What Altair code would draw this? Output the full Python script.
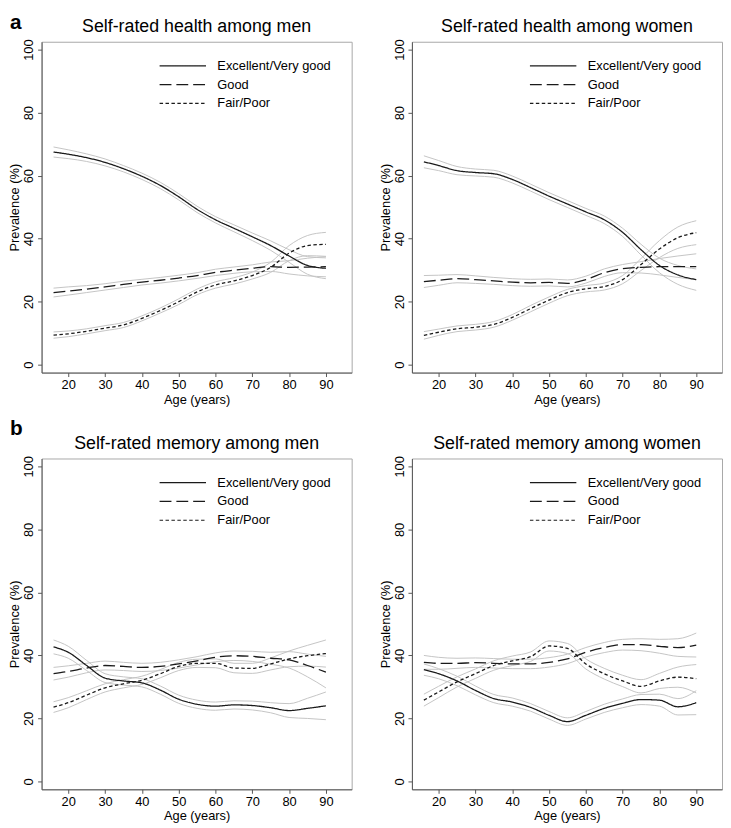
import altair as alt
import pandas as pd

FONT = "Liberation Sans"
AGES = [16, 20, 25, 30, 35, 40, 45, 50, 55, 60, 65, 70, 75, 80, 85, 90]
SERIES = ["Excellent/Very good", "Good", "Fair/Poor"]

# Self-rated health among men
hm_exc = [67.5, 66.8, 65.7, 64.2, 62.2, 59.8, 56.9, 53.3, 49.3, 46.0, 43.3, 40.6, 37.8, 34.5, 31.5, 30.6]
hm_good = [22.9, 23.4, 24.0, 24.7, 25.5, 26.2, 26.8, 27.5, 28.3, 29.3, 30.0, 30.6, 31.1, 30.9, 31.0, 31.1]
hm_fair = [9.4, 9.8, 10.6, 11.6, 12.6, 14.7, 17.2, 20.0, 23.1, 25.3, 26.6, 28.3, 30.9, 35.4, 37.8, 38.2]
hm_exc_hw = [1.6, 1.4, 1.2, 1.1, 1.0, 1.0, 1.0, 1.0, 1.0, 1.0, 1.1, 1.2, 1.5, 2.0, 2.8, 3.3]
hm_good_hw = [1.4, 1.3, 1.1, 1.0, 1.0, 0.9, 0.9, 0.9, 0.9, 1.0, 1.0, 1.1, 1.5, 2.1, 2.8, 3.2]
hm_fair_hw = [1.0, 0.9, 0.8, 0.8, 0.8, 0.8, 0.8, 0.9, 0.9, 1.0, 1.0, 1.1, 1.6, 2.4, 3.2, 3.8]

# Self-rated health among women
hw_exc = [64.4, 63.2, 61.6, 61.0, 60.6, 58.8, 56.2, 53.5, 51.0, 48.5, 46.0, 42.0, 36.5, 31.5, 28.5, 27.0]
hw_good = [26.4, 26.8, 27.3, 27.0, 26.6, 26.2, 26.0, 26.1, 25.8, 27.0, 29.2, 30.5, 30.9, 31.1, 31.1, 31.1]
hw_fair = [9.3, 10.3, 11.4, 11.9, 12.8, 15.0, 17.8, 20.5, 22.9, 24.1, 24.8, 27.0, 31.8, 36.7, 40.3, 41.9]
hw_exc_hw = [1.9, 1.6, 1.3, 1.1, 1.1, 1.1, 1.1, 1.1, 1.1, 1.1, 1.2, 1.3, 1.7, 2.3, 3.0, 3.4]
hw_good_hw = [1.9, 1.6, 1.3, 1.2, 1.1, 1.1, 1.1, 1.1, 1.1, 1.1, 1.2, 1.3, 1.8, 2.6, 3.4, 4.1]
hw_fair_hw = [1.2, 1.0, 0.9, 0.9, 0.9, 0.9, 1.0, 1.0, 1.0, 1.0, 1.1, 1.3, 1.9, 2.7, 3.4, 3.8]

# Self-rated memory among men
mm_exc = [42.7, 41.0, 36.8, 32.8, 31.9, 31.3, 29.0, 26.1, 24.5, 23.9, 24.3, 24.1, 23.4, 22.5, 23.2, 24.0]
mm_good = [34.2, 34.9, 36.0, 36.8, 36.5, 36.2, 36.5, 37.3, 38.3, 39.4, 39.9, 39.7, 39.1, 38.6, 36.8, 34.7]
mm_fair = [23.6, 25.0, 27.4, 29.7, 31.0, 32.1, 34.2, 36.5, 37.5, 37.5, 36.0, 35.9, 37.3, 38.9, 39.9, 40.6]
mm_exc_hw = [2.2, 1.9, 1.6, 1.4, 1.3, 1.3, 1.3, 1.3, 1.3, 1.3, 1.3, 1.4, 1.6, 2.2, 3.2, 4.4]
mm_good_hw = [2.0, 1.8, 1.5, 1.4, 1.3, 1.3, 1.3, 1.3, 1.3, 1.4, 1.5, 1.6, 1.9, 2.6, 3.6, 5.0]
mm_fair_hw = [1.7, 1.6, 1.4, 1.3, 1.3, 1.3, 1.3, 1.3, 1.3, 1.4, 1.5, 1.6, 1.9, 2.5, 3.3, 4.3]

# Self-rated memory among women
wm_exc = [35.5, 34.2, 31.9, 28.9, 26.3, 25.2, 23.5, 21.0, 19.0, 21.0, 23.2, 24.8, 26.0, 25.8, 23.7, 25.0]
wm_good = [37.8, 37.5, 37.5, 37.7, 37.5, 37.3, 37.3, 37.8, 38.9, 41.0, 42.5, 43.4, 43.4, 42.9, 42.5, 43.3]
wm_fair = [25.8, 28.4, 31.6, 34.2, 36.8, 38.3, 39.6, 43.0, 42.2, 37.3, 34.2, 31.9, 30.2, 31.9, 33.1, 32.6]
wm_exc_hw = [1.8, 1.6, 1.5, 1.4, 1.3, 1.3, 1.2, 1.2, 1.2, 1.2, 1.3, 1.4, 1.6, 1.9, 2.6, 3.8]
wm_good_hw = [2.2, 1.9, 1.6, 1.5, 1.5, 1.5, 1.5, 1.5, 1.5, 1.5, 1.6, 1.7, 1.9, 2.2, 2.8, 3.8]
wm_fair_hw = [1.9, 1.8, 1.6, 1.5, 1.5, 1.5, 1.5, 1.6, 1.6, 1.6, 1.7, 1.8, 2.1, 2.4, 3.2, 4.5]

W, H = 314, 335


def make_df(means, hws):
    rows = []
    for s, m, h in zip(SERIES, means, hws):
        for a, v, w in zip(AGES, m, h):
            rows.append({"age": a, "series": s, "mean": v, "lo": v - w, "hi": v + w})
    return pd.DataFrame(rows)


def panel(means, hws, title, label, label_y):
    df = make_df(means, hws)
    x = alt.X("age:Q", scale=alt.Scale(domain=[12.75, 97], nice=False, zero=False),
              axis=alt.Axis(values=[20, 30, 40, 50, 60, 70, 80, 90], title="Age (years)"))
    base = alt.Chart(df)
    ci = base.transform_fold(["lo", "hi"], as_=["bound", "val"]).transform_calculate(
        key="datum.series + '_' + datum.bound"
    ).mark_line(color="#c4c4c4", strokeWidth=1, interpolate="monotone").encode(
        x=x,
        y=alt.Y("val:Q", scale=alt.Scale(domain=[-2.5, 102.5], nice=False),
                axis=alt.Axis(values=[0, 20, 40, 60, 80, 100], title="Prevalence (%)", labelAngle=270)),
        detail=alt.Detail("key:N"),
        order=alt.Order("age:Q"),
    )
    main = base.mark_line(color="#1a1a1a", strokeWidth=1.3, interpolate="monotone").encode(
        x=x,
        y=alt.Y("mean:Q"),
        strokeDash=alt.StrokeDash(
            "series:N",
            scale=alt.Scale(domain=SERIES, range=[[1, 0], [12, 5], [3.5, 2.5]]),
            legend=alt.Legend(
                title=None, orient="none", legendX=136.5, legendY=18,
                symbolType="M-4.7,0H4.7", symbolSize=100, symbolStrokeWidth=1.2,
                symbolStrokeColor="#1a1a1a", symbolFillColor="transparent",
                labelFontSize=13, labelFont=FONT,
                labelColor="black", labelOffset=28.5, rowPadding=5, labelLimit=300,
            ),
        ),
        order=alt.Order("age:Q"),
    )
    ttl = alt.Chart(pd.DataFrame({"t": [title]})).mark_text(
        fontSize=18, font=FONT, align="center", baseline="alphabetic", color="black"
    ).encode(text="t:N", x=alt.value(W / 2), y=alt.value(-10))
    lab = alt.Chart(pd.DataFrame({"lab": [label if label else "a"]})).mark_text(
        fontSize=21, fontWeight="bold", font=FONT, align="left", baseline="alphabetic",
        color="black", opacity=1 if label else 0,
    ).encode(text="lab:N", x=alt.value(-32), y=alt.value(label_y))
    return alt.layer(ci, main, ttl, lab).properties(width=W, height=H)


p1 = panel([hm_exc, hm_good, hm_fair], [hm_exc_hw, hm_good_hw, hm_fair_hw], "Self-rated health among men", "a", -13)
p2 = panel([hw_exc, hw_good, hw_fair], [hw_exc_hw, hw_good_hw, hw_fair_hw], "Self-rated health among women", "", -13)
p3 = panel([mm_exc, mm_good, mm_fair], [mm_exc_hw, mm_good_hw, mm_fair_hw], "Self-rated memory among men", "b", -24)
p4 = panel([wm_exc, wm_good, wm_fair], [wm_exc_hw, wm_good_hw, wm_fair_hw], "Self-rated memory among women", "", -24)

row1 = alt.hconcat(p1, p2, spacing=26).resolve_scale(strokeDash="independent").resolve_legend(strokeDash="independent")
row2 = alt.hconcat(p3, p4, spacing=26).resolve_scale(strokeDash="independent").resolve_legend(strokeDash="independent")

chart = alt.vconcat(row1, row2, spacing=10).resolve_scale(strokeDash="independent").resolve_legend(
    strokeDash="independent"
).properties(
    padding={"top": -2, "left": 0, "right": 0, "bottom": 0}
).configure_view(
    stroke="#a8a8a8", strokeWidth=1
).configure_axis(
    domainColor="#555555", tickColor="#555555", tickSize=4, labelPadding=2,
    labelFont=FONT, labelFontSize=13, labelColor="black",
    titleFont=FONT, titleFontSize=13, titleFontWeight="normal", titleColor="black",
    titlePadding=1, grid=False,
).configure_axisX(titlePadding=2)

chart.save("out.html", embed_options={"renderer": "svg", "actions": False})
